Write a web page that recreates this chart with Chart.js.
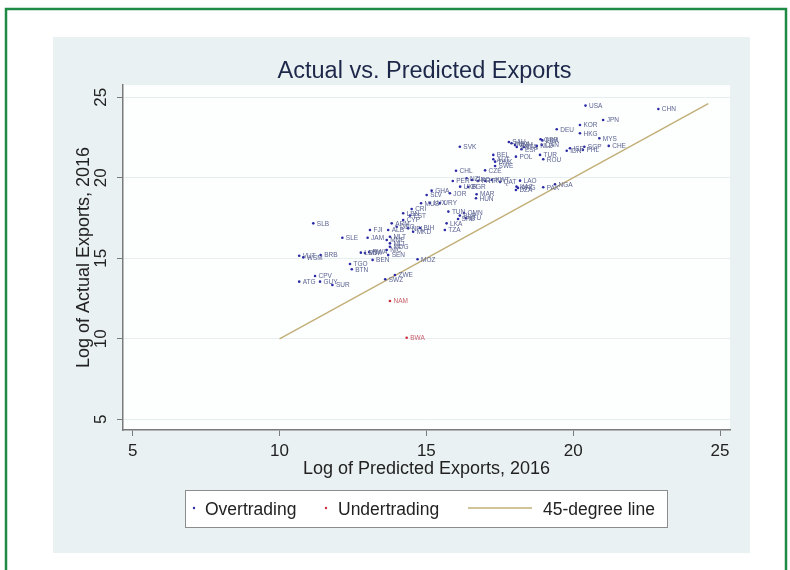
<!DOCTYPE html>
<html>
<head>
<meta charset="utf-8">
<script src="https://cdn.jsdelivr.net/npm/chart.js@4.4.1/dist/chart.umd.min.js"></script>
<style>
  html, body { margin: 0; padding: 0; background: #ffffff; }
  #wrap { position: relative; width: 790px; height: 570px; }
  canvas { display: block; }
</style>
</head>
<body>
<div id="wrap"><canvas id="c" width="790" height="570"></canvas></div>
<script>
// Country codes with log predicted (x) and log actual (y) exports, 2016
const overCodes = ['USA','CHN','JPN','KOR','DEU','HKG','MYS','CHE','SGP','PHL','ISR','IDN','SVK','GBR','FRA','MEX','VNM','SAU','IRL','ESP','ITA','NLD','CAN','POL','TUR','ROU','BEL','AUT','DNK','SWE','CZE','CHL','PER','NZL','GRC','PRT','HRV','KWT','QAT','UKR','BGR','LAO','KAZ','ARG','DZA','PAK','NGA','JOR','GHA','SLV','MAR','HUN','MUS','LUX','URY','CRI','LBN','EST','CYP','TUN','BLR','OMN','SRB','LTU','LKA','TZA','ARM','GEO','ALB','MLT','MNE','MKD','NPL','BIH','FJI','SLE','JAM','SLB','MLI','MDG','SEN','NIC','LSO','MWI','RWA','BEN','MOZ','TGO','BTN','VUT','WSM','BRB','CPV','ATG','GUY','SUR','ZWE','SWZ'];
const overPredicted = [20.42,22.90,21.02,20.23,19.44,20.23,20.89,21.21,20.38,20.33,19.89,19.78,16.14,18.89,18.95,17.90,18.02,17.81,18.08,18.24,18.32,18.76,18.93,18.05,18.87,18.98,17.28,17.28,17.34,17.34,17.00,16.01,15.90,16.37,16.55,16.76,17.00,17.23,17.51,16.15,16.42,18.19,18.07,18.12,18.05,18.98,19.38,15.80,15.18,15.01,16.71,16.69,14.82,15.12,15.46,14.50,14.21,14.44,14.21,15.75,16.14,16.28,16.08,16.35,15.69,15.63,13.82,13.99,13.70,13.76,13.65,14.55,14.38,14.78,13.08,12.14,13.00,11.15,13.76,13.76,13.70,13.65,12.77,12.91,13.05,13.17,14.70,12.40,12.46,10.67,10.81,11.40,11.21,10.67,11.38,11.80,13.93,13.60];
const overActual = [24.48,24.27,23.59,23.28,23.01,22.76,22.45,21.98,21.93,21.73,21.83,21.68,21.93,22.39,22.32,22.14,22.03,22.22,21.91,21.77,21.91,21.98,22.04,21.31,21.42,21.15,21.42,21.15,21.00,20.73,20.46,20.44,19.80,19.97,19.86,19.80,19.80,19.86,19.74,19.45,19.43,19.82,19.45,19.37,19.24,19.41,19.60,19.04,19.20,18.93,18.98,18.73,18.42,18.43,18.43,18.06,17.80,17.65,17.38,17.90,17.65,17.81,17.44,17.50,17.17,16.76,17.17,16.96,16.76,16.34,16.14,16.65,16.86,16.88,16.76,16.28,16.28,17.17,15.93,15.72,15.20,15.52,15.35,15.33,15.39,14.90,14.94,14.65,14.32,15.16,15.06,15.20,13.90,13.55,13.55,13.34,13.96,13.70];

const underCodes = ['NAM','BWA'];
const underPredicted = [13.76,14.33];
const underActual = [12.35,10.07];

// 45-degree reference line end points
const diagonal = [10, 24.6];

// Axis tick values
const xTicks = [5, 10, 15, 20, 25];
const yTicks = [5, 10, 15, 20, 25];

const FONT = "'Liberation Sans', Arial, Helvetica, sans-serif";
const BLUE = '#2a2aa6';
const BLUE_TXT = '#5d6592';
const RED = '#cc2b3c';
const RED_TXT = '#c7616b';
const KHAKI = '#c2b078';

const pts = (xs, ys) => xs.map((v, i) => ({ x: v, y: ys[i] }));

// Backgrounds: page, green frame, tinted panel, white plot region
const backdrop = {
  id: 'backdrop',
  beforeDraw(chart) {
    const ctx = chart.ctx;
    const a = chart.chartArea;
    ctx.save();
    ctx.fillStyle = '#ffffff';
    ctx.fillRect(0, 0, chart.width, chart.height);
    ctx.fillStyle = '#eaf1f3';
    ctx.fillRect(53, 37, 697, 516);
    ctx.fillStyle = '#fdfefe';
    ctx.fillRect(a.left, a.top, a.right - a.left, a.bottom - a.top);
    ctx.strokeStyle = '#1f8a45';
    ctx.lineWidth = 2.5;
    ctx.strokeRect(6, 9, 780, 575);
    ctx.restore();
  }
};

// Country code next to each marker
const pointLabels = {
  id: 'pointLabels',
  afterDatasetsDraw(chart) {
    const ctx = chart.ctx;
    ctx.save();
    ctx.font = '6.5px ' + FONT;
    ctx.textBaseline = 'middle';
    ctx.textAlign = 'left';
    chart.data.datasets.forEach((ds, di) => {
      if (!ds.codes) return;
      const meta = chart.getDatasetMeta(di);
      ctx.fillStyle = ds.labelColor;
      meta.data.forEach((el, i) => {
        ctx.fillText(ds.codes[i], el.x + 3.5, el.y + 0.5);
      });
    });
    ctx.restore();
  }
};

// Title and boxed legend
const decor = {
  id: 'decor',
  afterDraw(chart) {
    const ctx = chart.ctx;
    const ds = chart.data.datasets;
    ctx.save();
    ctx.fillStyle = '#1c2749';
    ctx.font = '23.5px ' + FONT;
    ctx.textAlign = 'center';
    ctx.textBaseline = 'alphabetic';
    ctx.fillText('Actual vs. Predicted Exports', 424.5, 77.5);

    ctx.fillStyle = '#ffffff';
    ctx.fillRect(185.5, 490.5, 482, 37);
    ctx.strokeStyle = '#8c8c8c';
    ctx.lineWidth = 1;
    ctx.strokeRect(185.5, 490.5, 482, 37);

    ctx.font = '17.5px ' + FONT;
    ctx.textAlign = 'left';
    ctx.fillStyle = '#222222';
    ctx.fillText(ds[0].label, 205, 514.5);
    ctx.fillText(ds[1].label, 338, 514.5);
    ctx.fillText(ds[2].label, 543, 514.5);

    ctx.fillStyle = ds[0].backgroundColor;
    ctx.beginPath(); ctx.arc(194, 508, 1.2, 0, Math.PI * 2); ctx.fill();
    ctx.fillStyle = ds[1].backgroundColor;
    ctx.beginPath(); ctx.arc(326, 508, 1.2, 0, Math.PI * 2); ctx.fill();
    ctx.strokeStyle = ds[2].borderColor;
    ctx.lineWidth = 1.5;
    ctx.beginPath(); ctx.moveTo(468, 508); ctx.lineTo(532, 508); ctx.stroke();
    ctx.restore();
  }
};

new Chart(document.getElementById('c'), {
  type: 'scatter',
  data: {
    datasets: [
      {
        label: 'Overtrading',
        codes: overCodes,
        labelColor: BLUE_TXT,
        data: pts(overPredicted, overActual),
        backgroundColor: BLUE,
        borderWidth: 0,
        pointRadius: 1.3,
        order: 1
      },
      {
        label: 'Undertrading',
        codes: underCodes,
        labelColor: RED_TXT,
        data: pts(underPredicted, underActual),
        backgroundColor: RED,
        borderWidth: 0,
        pointRadius: 1.3,
        order: 1
      },
      {
        type: 'line',
        label: '45-degree line',
        data: pts(diagonal, diagonal),
        borderColor: KHAKI,
        borderWidth: 1.5,
        pointRadius: 0,
        fill: false,
        order: 2
      }
    ]
  },
  options: {
    responsive: false,
    devicePixelRatio: 1,
    animation: false,
    events: [],
    layout: { padding: { left: 53, right: 60, top: 85, bottom: 85 } },
    plugins: {
      legend: { display: false },
      title: { display: false },
      tooltip: { enabled: false }
    },
    scales: {
      x: {
        type: 'linear',
        min: 4.67,
        max: 25.34,
        afterBuildTicks: s => { s.ticks = xTicks.map(v => ({ value: v })); },
        afterFit: s => { s.height = 55; },
        grid: { drawOnChartArea: false, drawTicks: true, tickLength: 6, tickColor: '#7a7a7a', tickWidth: 1 },
        border: { display: true, color: '#7a7a7a', width: 1.5 },
        ticks: { font: { family: FONT, size: 17 }, color: '#222222', padding: 5, minRotation: 0, maxRotation: 0 },
        title: { display: true, text: 'Log of Predicted Exports, 2016', color: '#222222', font: { family: FONT, size: 18 }, padding: { top: 0, bottom: 5 } }
      },
      y: {
        type: 'linear',
        min: 4.34,
        max: 25.76,
        afterBuildTicks: s => { s.ticks = yTicks.map(v => ({ value: v })); },
        afterFit: s => { s.width = 70; },
        grid: { color: '#e7eef0', lineWidth: 1, drawTicks: true, tickLength: 6, tickColor: '#7a7a7a', tickWidth: 1 },
        border: { display: true, color: '#7a7a7a', width: 1.5 },
        ticks: { font: { family: FONT, size: 17 }, color: '#222222', padding: 6, minRotation: 90, maxRotation: 90, crossAlign: 'center' },
        title: { display: true, text: 'Log of Actual Exports, 2016', color: '#222222', font: { family: FONT, size: 18 }, padding: { top: 20, bottom: 0 } }
      }
    }
  },
  plugins: [backdrop, pointLabels, decor]
});
</script>
</body>
</html>
